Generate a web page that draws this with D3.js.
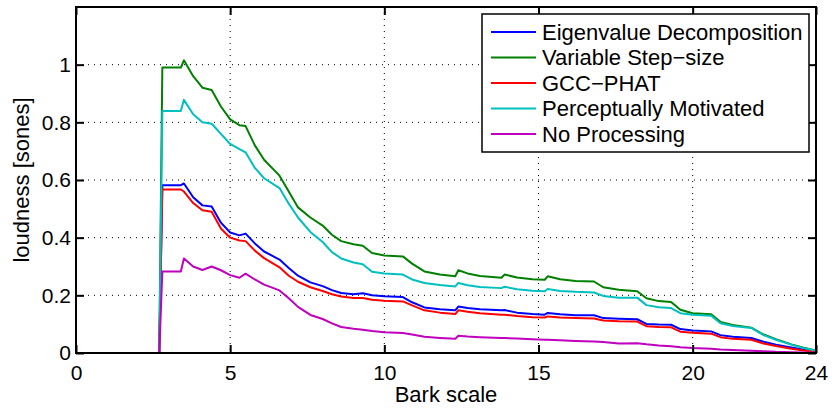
<!DOCTYPE html>
<html>
<head>
<meta charset="utf-8">
<script src="https://cdn.jsdelivr.net/npm/d3@7"></script>
<style>
  body { margin: 0; background: #fff; }
  text { font-family: "Liberation Sans", Arial, sans-serif; }
</style>
</head>
<body>
<div id="chart"></div>
<script>
var svgWidth = 832;
var svgHeight = 410;

var margin = { top: 7, right: 16, bottom: 57, left: 76 };
var width = svgWidth - margin.left - margin.right;
var height = svgHeight - margin.top - margin.bottom;

// Bark positions where the curves were read
var bark = [0, 2.7, 2.8, 3.4, 3.5, 3.8, 4.1, 4.4, 4.7, 5.0, 5.3, 5.5, 5.8, 6.1, 6.6, 6.9, 7.2, 7.6,
  8.0, 8.3, 8.6, 9.0, 9.3, 9.6, 10.0, 10.6, 10.9, 11.3, 11.8, 12.3, 12.4, 12.7, 13.1, 13.8, 13.9,
  14.3, 14.8, 15.2, 15.3, 15.7, 16.2, 16.8, 17.1, 17.6, 18.2, 18.5, 18.9, 19.3, 19.6, 20.0, 20.6,
  20.9, 21.3, 21.9, 22.3, 22.7, 23.2, 23.6, 24];

var eigenvalue = [0, 0, 0.582, 0.582, 0.588, 0.54, 0.512, 0.508, 0.452, 0.418, 0.408, 0.414, 0.38,
  0.352, 0.324, 0.295, 0.268, 0.245, 0.232, 0.218, 0.208, 0.204, 0.207, 0.2, 0.197, 0.194, 0.176,
  0.158, 0.152, 0.148, 0.161, 0.156, 0.152, 0.148, 0.149, 0.14, 0.135, 0.133, 0.139, 0.134, 0.131,
  0.131, 0.121, 0.119, 0.117, 0.101, 0.099, 0.098, 0.083, 0.078, 0.075, 0.062, 0.056, 0.052, 0.039,
  0.029, 0.019, 0.011, 0.005];

var variableStep = [0, 0, 0.99, 0.99, 1.015, 0.96, 0.92, 0.912, 0.855, 0.81, 0.79, 0.787, 0.72,
  0.67, 0.615, 0.56, 0.505, 0.47, 0.442, 0.41, 0.388, 0.377, 0.372, 0.347, 0.338, 0.335, 0.31,
  0.283, 0.272, 0.266, 0.287, 0.276, 0.267, 0.261, 0.272, 0.262, 0.256, 0.254, 0.266, 0.256, 0.25,
  0.248, 0.228, 0.219, 0.214, 0.19, 0.18, 0.177, 0.15, 0.138, 0.134, 0.108, 0.097, 0.088, 0.064,
  0.048, 0.03, 0.018, 0.008];

var gccPhat = [0, 0, 0.567, 0.567, 0.56, 0.52, 0.495, 0.49, 0.432, 0.4, 0.39, 0.388, 0.355, 0.329,
  0.297, 0.268, 0.247, 0.228, 0.215, 0.204, 0.196, 0.191, 0.191, 0.185, 0.181, 0.179, 0.165, 0.148,
  0.14, 0.135, 0.148, 0.143, 0.138, 0.133, 0.133, 0.128, 0.124, 0.123, 0.127, 0.123, 0.121, 0.12,
  0.113, 0.11, 0.109, 0.093, 0.09, 0.089, 0.074, 0.07, 0.067, 0.055, 0.049, 0.046, 0.033, 0.024,
  0.015, 0.009, 0.004];

var perceptual = [0, 0, 0.839, 0.839, 0.878, 0.828, 0.8, 0.795, 0.76, 0.725, 0.707, 0.696, 0.642,
  0.606, 0.572, 0.518, 0.47, 0.42, 0.385, 0.35, 0.328, 0.314, 0.308, 0.282, 0.276, 0.272, 0.255,
  0.243, 0.236, 0.231, 0.243, 0.235, 0.229, 0.225, 0.23, 0.221, 0.216, 0.214, 0.222, 0.215, 0.212,
  0.21, 0.198, 0.192, 0.192, 0.166, 0.159, 0.156, 0.138, 0.133, 0.129, 0.103, 0.094, 0.087, 0.062,
  0.046, 0.029, 0.017, 0.008];

var noProcessing = [0, 0, 0.283, 0.283, 0.328, 0.3, 0.288, 0.3, 0.287, 0.27, 0.261, 0.275, 0.255,
  0.237, 0.217, 0.19, 0.16, 0.132, 0.118, 0.103, 0.09, 0.084, 0.081, 0.076, 0.072, 0.069, 0.064,
  0.056, 0.052, 0.049, 0.06, 0.057, 0.055, 0.052, 0.052, 0.05, 0.048, 0.046, 0.046, 0.044, 0.042,
  0.04, 0.038, 0.033, 0.034, 0.03, 0.026, 0.023, 0.02, 0.017, 0.015, 0.012, 0.01, 0.008, 0.006,
  0.004, 0.003, 0.002, 0.001];

var seriesNames = ["Eigenvalue Decomposition", "Variable Step\u2212size", "GCC\u2212PHAT",
  "Perceptually Motivated", "No Processing"];
var seriesValues = [eigenvalue, variableStep, gccPhat, perceptual, noProcessing];
var seriesColors = ["#0000ff", "#008000", "#ff0000", "#00bfbf", "#bf00bf"];

var xTicks = [0, 5, 10, 15, 20, 24];
var yTicks = [0, 0.2, 0.4, 0.6, 0.8, 1];

var svg = d3.select("#chart")
  .append("svg")
  .attr("width", svgWidth)
  .attr("height", svgHeight);

var chartGroup = svg.append("g")
  .attr("transform", `translate(${margin.left}, ${margin.top})`);

var xScale = d3.scaleLinear().domain([0, 24]).range([0, width]);
var yScale = d3.scaleLinear().domain([0, 1.2]).range([height, 0]);

// dotted grid
chartGroup.append("g")
  .selectAll("line")
  .data(xTicks.slice(1, -1))
  .enter()
  .append("line")
  .attr("x1", d => xScale(d)).attr("x2", d => xScale(d))
  .attr("y1", 0).attr("y2", height)
  .attr("stroke", "#000")
  .attr("stroke-dasharray", "1,5");

chartGroup.append("g")
  .selectAll("line")
  .data(yTicks.slice(1))
  .enter()
  .append("line")
  .attr("x1", 0).attr("x2", width)
  .attr("y1", d => yScale(d)).attr("y2", d => yScale(d))
  .attr("stroke", "#000")
  .attr("stroke-dasharray", "1,5");

// curves
var line = d3.line()
  .x((d, i) => xScale(bark[i]))
  .y(d => yScale(d));

seriesValues.forEach(function(vals, k) {
  chartGroup.append("path")
    .datum(vals)
    .attr("fill", "none")
    .attr("stroke", seriesColors[k])
    .attr("stroke-width", 2)
    .attr("stroke-linejoin", "round")
    .attr("d", line);
});

// axes with inward ticks on all four sides
function styleAxis(g) {
  g.select(".domain").remove();
  g.selectAll(".tick line").attr("stroke", "#000").attr("stroke-width", 2);
  g.selectAll(".tick text").attr("fill", "#000").style("font-size", "21px")
    .style("font-family", "'Liberation Sans', Arial, sans-serif");
}

chartGroup.append("g")
  .attr("transform", `translate(0, ${height})`)
  .call(d3.axisBottom(xScale).tickValues(xTicks).tickFormat(d3.format("d"))
    .tickSizeInner(-8).tickSizeOuter(0).tickPadding(12))
  .call(styleAxis);

chartGroup.append("g")
  .call(d3.axisTop(xScale).tickValues(xTicks).tickFormat("")
    .tickSizeInner(-8).tickSizeOuter(0))
  .call(styleAxis);

chartGroup.append("g")
  .call(d3.axisLeft(yScale).tickValues(yTicks).tickFormat(d => d === 0 ? "0" : d === 1 ? "1" : d3.format(".1f")(d))
    .tickSizeInner(-8).tickSizeOuter(0).tickPadding(5))
  .call(styleAxis);

chartGroup.append("g")
  .attr("transform", `translate(${width}, 0)`)
  .call(d3.axisRight(yScale).tickValues(yTicks).tickFormat("")
    .tickSizeInner(-8).tickSizeOuter(0))
  .call(styleAxis);

chartGroup.append("rect")
  .attr("width", width)
  .attr("height", height)
  .attr("fill", "none")
  .attr("stroke", "#000")
  .attr("stroke-width", 2);

// legend
var legend = chartGroup.append("g")
  .attr("transform", `translate(${482 - margin.left}, ${14 - margin.top})`);

legend.append("rect")
  .attr("width", 327)
  .attr("height", 138)
  .attr("fill", "#fff")
  .attr("stroke", "#000")
  .attr("stroke-width", 1.5);

var rows = legend.selectAll(".row")
  .data(seriesNames)
  .enter()
  .append("g")
  .attr("transform", (d, i) => `translate(0, ${18 + i * 25.5})`);

rows.append("line")
  .attr("x1", 9).attr("x2", 54)
  .attr("stroke", (d, i) => seriesColors[i])
  .attr("stroke-width", 2);

rows.append("text")
  .attr("x", 60)
  .attr("dy", "0.36em")
  .style("font-size", "22px")
  .text(d => d);

// axis labels
chartGroup.append("text")
  .attr("transform", "rotate(-90)")
  .attr("x", -height / 2)
  .attr("y", 21 - margin.left)
  .attr("dy", "0.36em")
  .attr("text-anchor", "middle")
  .style("font-size", "22px")
  .text("loudness [sones]");

chartGroup.append("text")
  .attr("x", width / 2)
  .attr("y", 402 - margin.top)
  .attr("text-anchor", "middle")
  .style("font-size", "22px")
  .text("Bark scale");
</script>
</body>
</html>
